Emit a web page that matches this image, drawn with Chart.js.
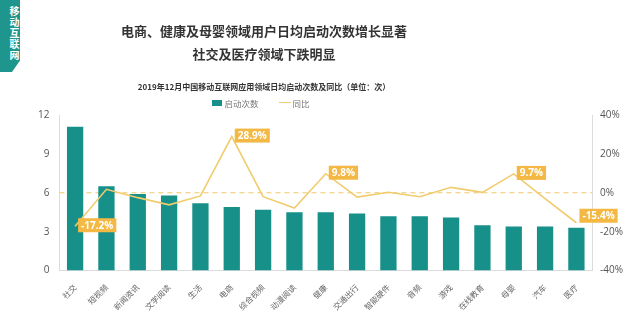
<!DOCTYPE html>
<html>
<head>
<meta charset="utf-8">
<script src="https://cdn.jsdelivr.net/npm/chart.js@4"></script>
<style>
  html, body { margin: 0; padding: 0; background: #fff; }
  #wrap { position: relative; width: 640px; height: 325px; overflow: hidden; font-family: "Noto Sans CJK SC", "Noto Sans", sans-serif; }
  #chart { position: absolute; left: 0; top: 0; }
  .badge { position: absolute; left: 0; top: 0; width: 20px; height: 72px; background: #1f968d;
           clip-path: polygon(0 0, 100% 0, 100% 84%, 60% 100%, 0 100%); }
  .badge span { position: absolute; left: 0; top: 6px; width: 20px; color: #fff; font-weight: 700;
                font-size: 10px; line-height: 12px; text-align: center; writing-mode: vertical-rl; letter-spacing: 1px; }
  .head { position: absolute; left: 0; width: 528px; text-align: center; color: #333; font-weight: 700; white-space: nowrap; }
  .legend { position: absolute; top: 95px; left: 0; width: 522px; text-align: center; font-size: 8.5px; color: #777; white-space: nowrap; }
  .legend i { display: inline-block; vertical-align: middle; margin-right: 2px; }
  .legend i + b + i { margin-left: 20px; }
  .legend b { font-weight: 400; vertical-align: middle; }
</style>
</head>
<body>
<div id="wrap">
  <canvas id="chart" width="640" height="325"></canvas>
  <div class="badge"><span>移动互联网</span></div>
  <div class="head" style="top:21px;font-size:13px;">电商、健康及母婴领域用户日均启动次数增长显著</div>
  <div class="head" style="top:44px;font-size:13px;">社交及医疗领域下跌明显</div>
  <div class="head" style="top:81px;font-size:8px;">2019年12月中国移动互联网应用领域日均启动次数及同比（单位：次）</div>
  <div class="legend" id="legend"></div>
</div>
<script>
// 应用领域
var categories = ['社交', '短视频', '新闻资讯', '文学阅读', '生活', '电商', '综合视频', '动漫阅读', '健康',
                  '交通出行', '智能硬件', '音频', '游戏', '在线教育', '母婴', '汽车', '医疗'];
// 日均启动次数（次）
var launches = [11.1, 6.5, 5.9, 5.8, 5.2, 4.9, 4.7, 4.5, 4.5, 4.4, 4.2, 4.2, 4.1, 3.5, 3.4, 3.4, 3.3];
// 同比（%）
var yoy = [-17.2, 1.8, -2.5, -6.2, -1.6, 28.9, -2.0, -7.8, 9.8, -2.2, 0.3, -2.0, 2.8, 0.2, 9.7, -3.0, -15.4];
// 标注了数值的领域
var labelled = ['社交', '电商', '健康', '母婴', '医疗'];
var leftTicks = [0, 3, 6, 9, 12];
var rightTicks = [-40, -20, 0, 20, 40];

var teal = '#17908a';
var gold = '#f1cc6e';
var tagColor = '#f3b944';

// 0% 参考虚线
var zeroLine = {
  id: 'zeroLine',
  beforeDatasetsDraw: function(chart) {
    var ctx = chart.ctx, area = chart.chartArea;
    var y = chart.scales.y1.getPixelForValue(0);
    ctx.save();
    ctx.strokeStyle = '#f0c566';
    ctx.lineWidth = 1;
    ctx.setLineDash([5, 4]);
    ctx.beginPath();
    ctx.moveTo(area.left, y);
    ctx.lineTo(area.right, y);
    ctx.stroke();
    ctx.restore();
  }
};

// 折线上的橙色数值标签
var valueTags = {
  id: 'valueTags',
  afterDatasetsDraw: function(chart) {
    var ctx = chart.ctx;
    var meta = chart.getDatasetMeta(1);
    ctx.save();
    ctx.font = 'bold 10px "Open Sans", "Noto Sans", sans-serif';
    ctx.textBaseline = 'middle';
    meta.data.forEach(function(pt, i) {
      if (labelled.indexOf(categories[i]) < 0) return;
      var txt = yoy[i].toFixed(1) + '%';
      var w = ctx.measureText(txt).width + 6;
      var h = 14;
      var x = pt.x + 3;
      var cy = pt.y - (i === categories.length - 1 ? 7 : 1);
      ctx.fillStyle = tagColor;
      ctx.fillRect(x, cy - h / 2, w, h);
      ctx.fillStyle = '#fff';
      ctx.fillText(txt, x + 3, cy + 0.5);
    });
    ctx.restore();
  }
};

var tickFont = { family: '"Open Sans", "Noto Sans", sans-serif', size: 10 };

var myChart = new Chart(document.getElementById('chart'), {
  type: 'bar',
  data: {
    labels: categories,
    datasets: [{
      type: 'bar',
      label: '启动次数',
      data: launches,
      backgroundColor: teal,
      yAxisID: 'y',
      categoryPercentage: 1,
      barPercentage: 0.52,
      order: 2
    }, {
      type: 'line',
      label: '同比',
      data: yoy,
      borderColor: gold,
      borderWidth: 1.6,
      pointRadius: 0,
      tension: 0,
      yAxisID: 'y1',
      order: 1
    }]
  },
  options: {
    responsive: false,
    devicePixelRatio: 1,
    animation: false,
    layout: { padding: { top: 115, left: 28, right: 9, bottom: 9 } },
    plugins: {
      legend: { display: false },
      tooltip: { enabled: false },
      title: { display: false }
    },
    scales: {
      x: {
        grid: { display: false },
        border: { display: true, color: '#dcdcdc' },
        ticks: {
          autoSkip: false,
          maxRotation: 45,
          minRotation: 45,
          color: '#666',
          padding: 4,
          font: { family: '"Noto Sans CJK SC", sans-serif', size: 8 }
        }
      },
      y: {
        position: 'left',
        min: 0,
        max: 12,
        afterBuildTicks: function(axis) { axis.ticks = leftTicks.map(function(v) { return { value: v }; }); },
        grid: { display: false, drawTicks: false },
        border: { display: true, color: '#dcdcdc' },
        ticks: { color: '#555', padding: 10, font: tickFont }
      },
      y1: {
        position: 'right',
        min: -40,
        max: 40,
        afterBuildTicks: function(axis) { axis.ticks = rightTicks.map(function(v) { return { value: v }; }); },
        grid: { display: false, drawTicks: false },
        border: { display: true, color: '#dcdcdc' },
        ticks: { color: '#555', padding: 8, font: tickFont, callback: function(v) { return v + '%'; } }
      }
    }
  },
  plugins: [zeroLine, valueTags]
});

// 图例
var legendHtml = '';
myChart.data.datasets.forEach(function(ds) {
  var sw = ds.type === 'bar'
    ? '<i style="width:10px;height:6px;background:' + ds.backgroundColor + '"></i>'
    : '<i style="width:12px;height:1.5px;background:' + ds.borderColor + '"></i>';
  legendHtml += sw + '<b>' + ds.label + '</b>';
});
document.getElementById('legend').innerHTML = legendHtml;
</script>
</body>
</html>
